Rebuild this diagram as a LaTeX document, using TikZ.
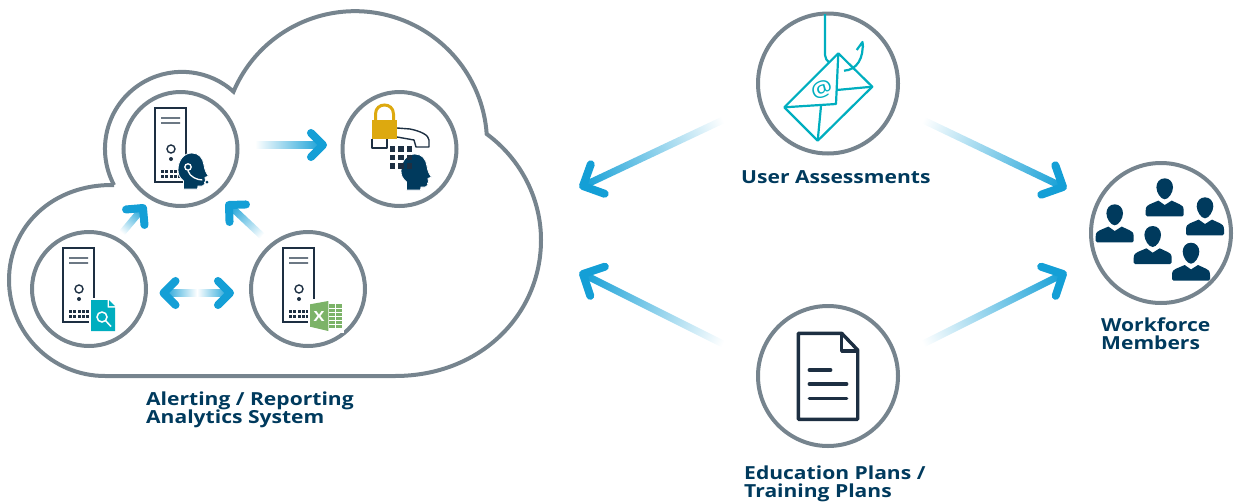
\documentclass[tikz,border=0pt]{standalone}
\usepackage{fontspec}
\setmainfont[FakeStretch=1.17]{Open Sans}
\usetikzlibrary{calc}

\definecolor{ringgrey}{HTML}{76848E}
\definecolor{navy}{HTML}{003A5D}
\definecolor{ink}{HTML}{1D2F42}
\definecolor{teal2}{HTML}{00AEBF}
\definecolor{gold}{HTML}{DDA90F}
\definecolor{xlgreen}{HTML}{7CB368}
\definecolor{arrowblue}{HTML}{149FD6}

\tikzset{
  server/.pic={
    \draw[ink, line width=1.8pt] (0,0) rectangle (31,74);
    \draw[ink, line width=1.4pt] (6,10) -- (25,10) (6,15) -- (25,15) (16,41) circle (4);
    \fill[ink] (16,51) circle (2);
    \foreach \kx in {6,10,15,19,23} \foreach \ky in {62,67} \fill[ink] (\kx,\ky) rectangle +(3,3);
  },
  head/.pic={
    \filldraw[navy, draw=white, line width=0.8pt] (5.5,36) -- (5.5,28) .. controls (1,24) and (0,21) .. (0,17)
      .. controls (0,7) and (6,0) .. (14,0) .. controls (21,0) and (25,5) .. (26,12)
      .. controls (26.5,16) and (28,20) .. (30.5,23) -- (27,24.5) -- (27.5,28) -- (26.5,29.5) -- (27,31)
      .. controls (26,33.5) and (23,33.5) .. (20,33) -- (19.5,36) -- cycle;
  },
  person/.pic={
    \fill[navy] (0,0) .. controls (5,0) and (8.3,4) .. (8.3,9) .. controls (8.3,14) and (4,21) .. (0,21)
      .. controls (-4,21) and (-8.3,14) .. (-8.3,9) .. controls (-8.3,4) and (-5,0) .. (0,0) -- cycle;
    \fill[navy] (-19,36.5) -- (-19,32) .. controls (-19,28) and (-17,27) .. (-15,26) -- (-6.3,22.3) -- (0,26.7)
      -- (7,22.3) -- (15,26) .. controls (17,27) and (19,28) .. (19,32) -- (19,36.5)
      .. controls (19,37.5) and (18,38) .. (17.5,38) -- (-17.5,38) .. controls (-18,38) and (-19,37.5) .. (-19,36.5) -- cycle;
  }
}

\newcommand{\fadeshaft}[2]{
  \path let \p1=($(#2)-(#1)$), \p2=(#1), \n1={atan2(\y1,\x1)}, \n2={veclen(\x1,\y1)} in
    \pgfextra{\xdef\shaftangle{\n1}\xdef\shaftlen{\n2}\xdef\shaftx{\x2}\xdef\shafty{\y2}};
  \shade[shaft, transform canvas={shift={(\shaftx,\shafty)}, rotate=\shaftangle}] (0pt,-3.5pt) rectangle (\shaftlen,3.5pt);
}
\newcommand{\fadehead}[3]{
  \draw[tip] ($(#2)!#3pt!45:(#1)$) -- (#2) -- ($(#2)!#3pt!-45:(#1)$);
}

\begin{document}
\begin{tikzpicture}[x=1pt, y=-1pt,
  main/.style = {draw=ringgrey, circle, line width=4pt, inner sep=0pt},
  small/.style = {main, minimum size=114pt},
  large/.style = {main, minimum size=140pt},
  label/.style = {anchor=base west, align=left, text=navy, font=\fontsize{18}{18}\selectfont\bfseries, inner sep=0pt},
  shaft/.style = {left color=white, right color=arrowblue},
  tip/.style = {draw=arrowblue, line width=8pt, line cap=round, line join=round},
  icon/.style = {line width=2.2pt, teal2, line join=round}]
\useasboundingbox (0,0) rectangle (1235,501);

\draw[ringgrey, line width=4pt, line join=miter] (114,185) arc[start angle=-208, end angle=-48, radius=77]
  arc[start angle=-157, end angle=-4, radius=132]
  .. controls (522,160) and (541,200) .. (541,240) .. controls (541,315) and (480,376) .. (395,376)
  -- (105,376) .. controls (52,376) and (9,333) .. (9,280) .. controls (9,227) and (52,184) .. (114,185);

\node[small] (voice) at (180.5,149) {};
\node[small] (secure) at (399.5,149) {};
\node[small] (search) at (89,289) {};
\node[small] (excel) at (308,289) {};
\node[large] (assess) at (828,83.5) {};
\node[large] (plans) at (828,376) {};
\node[large] (staff) at (1161,233) {};

\pic at (155,108) {server};
\pic at (178,153) {head};
\draw[white, line width=1.3pt] (188,167) circle (3.2) (188,171) .. controls (190,177) and (197,180) .. (203,180);
\fill[navy] (207,182) circle (1.5) (203,180) circle (1.2);

\draw[gold, line width=3pt] (375.5,121) -- (375.5,114) .. controls (375.5,102) and (393.5,102) .. (393.5,114) -- (393.5,121);
\draw[ink, line width=1.4pt, line join=round] (397,128) -- (410,129) .. controls (420,131) and (429,135) .. (429,140)
  -- (429,147) -- (416,147) -- (414,140) -- (397,137);
\draw[ink, line width=1.4pt, line join=round] (372,139) -- (372,148) -- (387,148) -- (387,139);
\fill[gold] (372,120) rectangle (397,139);
\pic at (401,154) {head};
\foreach \kx in {389.5,398,406.5} \foreach \ky in {146,154.5,163} \fill[ink] (\kx,\ky) rectangle +(5.5,5.5);

\pic at (63,248) {server};
\fill[white] (89,298) rectangle (117,333);
\fill[teal2] (91,300) -- (107.5,300) -- (107.5,307.5) -- (115,307.5) -- (115,331) -- (91,331) -- cycle;
\fill[teal2] (109,300) -- (115,306) -- (109,306) -- cycle;
\draw[white, line width=1.5pt] (102,317) circle (5) (105.5,320.5) -- (111,326.5);

\pic at (283,248) {server};
\fill[white] (308,299) rectangle (344,333);
\fill[xlgreen] (329.3,304.3) rectangle (342,327.7);
\draw[white, line width=0.9pt] (335.5,304.3) -- (335.5,327.7) (329.3,308) -- (342,308) (329.3,312) -- (342,312)
  (329.3,316) -- (342,316) (329.3,320) -- (342,320) (329.3,324) -- (342,324);
\fill[xlgreen] (310,304.3) -- (328.3,301) -- (328.3,331) -- (310,326.7) -- cycle;
\node (xl) at (319,316.5) [text=white, inner sep=0pt, font=\fontsize{14}{14}\selectfont\bfseries] {X};

\draw[icon] (825,14) -- (825,55) .. controls (825,58) and (827,61) .. (829.3,62.7);
\draw[icon] (838.3,53.3) -- (872.3,86.7) -- (817.7,140.7) -- (784.3,107.3) -- cycle;
\draw[icon] (784.3,107.3) -- (836,104) -- (838.3,53.3) (872.3,86.7) -- (836.7,90) (821,106) -- (817.7,140.7);
\draw[icon] (844,70.7) .. controls (857,70) and (864,58) .. (862.5,42) (856.7,50) -- (862.5,42) -- (863,47);
\node (mail) at (821.7,89.3) [text=teal2, inner sep=0pt, rotate=20, font=\fontsize{21}{21}\selectfont] {@};

\draw[ink, line width=3.4pt, line join=round] (798.3,333.3) -- (841.7,333.3) -- (857.7,350) -- (857.7,419.3) -- (798.3,419.3) -- cycle;
\draw[ink, line width=3.4pt, line join=round] (841.7,333.3) -- (841.7,351) -- (857.7,351);
\draw[ink, line width=3.4pt, line cap=round] (809.3,370) -- (830.7,370) (809.3,384) -- (846.7,384) (809.3,398.3) -- (846.7,398.3);

\pic at (1164.7,178.3) {person};
\pic at (1205,197.3) {person};
\pic at (1114.7,204.3) {person};
\pic at (1152.7,226) {person};
\pic at (1191,242.7) {person};

\coordinate (a1) at (255,145); \coordinate (a2) at (323,145);
\coordinate (b1) at (122,233); \coordinate (b2) at (143,208);
\coordinate (c1) at (262,236); \coordinate (c2) at (229,205);
\coordinate (d1) at (163.5,293); \coordinate (dm) at (197,293); \coordinate (d2) at (230,293);
\coordinate (e1) at (723,120); \coordinate (e2) at (583,186);
\coordinate (f1) at (923,120); \coordinate (f2) at (1063,187);
\coordinate (g1) at (723,344); \coordinate (g2) at (583,274);
\coordinate (h1) at (923,344); \coordinate (h2) at (1063,274);

\fadeshaft{a1}{a2} \fadehead{a1}{a2}{17}
\fadeshaft{b1}{b2} \fadehead{b1}{b2}{17}
\fadeshaft{c1}{c2} \fadehead{c1}{c2}{17}
\fadeshaft{dm}{d1} \fadeshaft{dm}{d2} \fadehead{dm}{d1}{17} \fadehead{dm}{d2}{17}
\fadeshaft{e1}{e2} \fadehead{e1}{e2}{23}
\fadeshaft{f1}{f2} \fadehead{f1}{f2}{23}
\fadeshaft{g1}{g2} \fadehead{g1}{g2}{23}
\fadeshaft{h1}{h2} \fadehead{h1}{h2}{23}

\node[label] (t1) at (146,423) {Alerting / Reporting\\Analytics System};
\node[label] (t2) at (741,183) {User Assessments};
\node[label] (t3) at (1101,349) {Workforce\\Members};
\node[label] (t4) at (744,497) {Education Plans /\\Training Plans};

\end{tikzpicture}
\end{document}
